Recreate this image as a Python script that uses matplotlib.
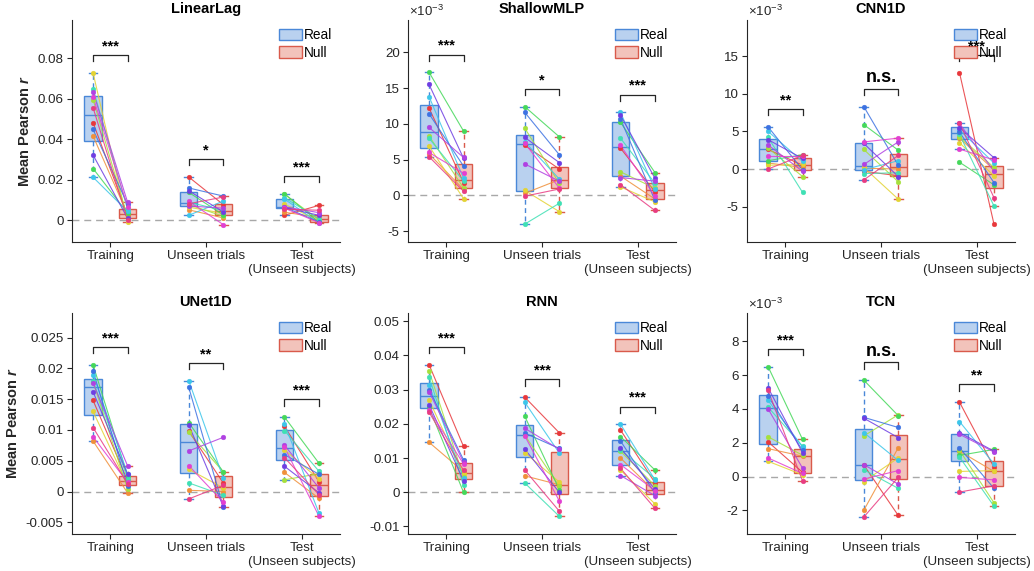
import numpy as np
import matplotlib
matplotlib.use('Agg')
import matplotlib.pyplot as plt
from matplotlib.patches import Patch
from matplotlib.ticker import FuncFormatter, FixedLocator

plt.rcParams['font.family'] = ['Liberation Sans', 'DejaVu Sans']
plt.rcParams['mathtext.fontset'] = 'custom'
plt.rcParams['mathtext.rm'] = 'Liberation Sans'
plt.rcParams['mathtext.it'] = 'Liberation Sans:italic'
plt.rcParams['mathtext.bf'] = 'Liberation Sans:bold'
plt.rcParams['mathtext.bfit'] = 'Liberation Sans:italic:bold'

# ---------------- data ----------------
groups = ['Training', 'Unseen trials', 'Test\n(Unseen subjects)']
conditions = ['Real', 'Null']
models = ['LinearLag', 'ShallowMLP', 'CNN1D', 'UNet1D', 'RNN', 'TCN']
# subject order: red, orange, yellow, lime, green, teal, cyan, blue, purple, violet, magenta, pink
subject_colors = ['#e8383c', '#f0903a', '#e3d334', '#a6e03c', '#45d85a', '#3fe0b4',
                  '#3cc6ea', '#3d72e2', '#6f3ee2', '#b041e2', '#e23fd2', '#e83c82']

linearlag_train_real = [.0483, .0417, .0729, .0597, .0256, .0650, .0213, .0449, .0323, .0635, .0610, .0557]
linearlag_train_null = [.0025, .0030, -.0008, .0014, .0036, .0055, .0045, .0080, .0011, .0091, .0068, .0004]
linearlag_unseen_real = [.0214, .0052, .0065, .0078, .0138, .0090, .0025, .0160, .0146, .0071, .0094, .0082]
linearlag_unseen_null = [.0078, .0012, .0035, .0020, .0027, .0048, .0095, .0120, .0042, .0060, -.0021, .0115]
linearlag_test_real = [.0025, .0040, .0080, .0128, .0132, .0112, .0105, .0065, .0063, .0067, .0060, .0055]
linearlag_test_null = [.0074, .0015, -.0002, .0003, -.0010, .0007, -.0013, -.0008, .0025, .0038, -.0011, .0050]

# ShallowMLP, CNN1D and TCN values in units of 1e-3
shallowmlp_train_real = [12.2, 5.8, 6.9, 8.3, 17.2, 8.0, 13.8, 11.4, 15.5, 9.5, 6.0, 5.4]
shallowmlp_train_null = [1.8, 0.85, -0.45, 1.05, 9.0, 2.0, 2.4, 4.1, 5.2, 5.3, 3.1, 0.6]
shallowmlp_unseen_real = [7.0, 0.3, 0.7, 9.4, 12.4, -4.0, 7.5, 11.6, 8.1, 4.4, 7.3, -0.1]
shallowmlp_unseen_null = [3.7, 2.2, -2.25, 1.7, 8.2, -1.1, 2.3, 5.7, 4.6, 2.0, 1.05, 0.9]
shallowmlp_test_real = [6.6, 2.7, 1.2, 3.3, 10.2, 8.0, 11.6, 10.7, 11.2, 2.5, 7.0, 1.5]
shallowmlp_test_null = [0.5, -0.5, -0.9, 1.0, 3.2, 1.7, 0.9, -0.7, 2.4, 2.0, -0.1, -2.1]

cnn1d_train_real = [2.6, 0.8, 0.5, 2.8, 1.1, 4.2, 5.0, 5.6, 3.9, 3.2, 1.7, 0.0]
cnn1d_train_null = [0.5, 0.2, 0.6, -1.0, 1.9, -3.1, 1.0, -0.1, 1.4, -0.3, 1.7, 1.8]
cnn1d_unseen_real = [-0.3, 0.1, 0.2, 2.6, 5.9, -0.6, -0.1, 8.3, 3.4, 0.6, 3.6, -1.45]
cnn1d_unseen_null = [-0.9, 0.0, -4.0, -1.7, 2.5, -0.5, 1.1, 0.5, -1.0, 3.6, 4.1, 1.8]
cnn1d_test_real = [12.8, 4.1, 3.5, 4.3, 0.9, 4.6, 5.2, 4.9, 5.5, 6.05, 2.65, 6.1]
cnn1d_test_null = [-7.3, -0.1, -0.9, 0.2, -2.1, -4.9, 0.8, -1.8, 1.5, -0.3, 1.2, -3.8]

unet1d_train_real = [.0148, .0082, .0130, .0178, .0206, .0180, .0190, .0196, .0162, .0176, .0089, .0104]
unet1d_train_null = [.0018, -.0002, .0011, .0004, .0025, .0021, .0029, .0009, .0028, .0042, .0015, .0013]
unet1d_unseen_real = [.0098, .0002, .0036, .0096, .0112, .0014, .0180, .0169, .0108, .0066, .0042, -.0012]
unet1d_unseen_null = [.0014, .0000, .0006, .0032, .0032, -.0006, .0022, -.0025, -.0024, .0088, -.0017, .0010]
unet1d_test_real = [.0106, .0031, .0068, .0019, .0121, .0099, .0110, .0060, .0041, .0075, .0072, .0055]
unet1d_test_null = [.0016, -.0011, .0020, .0029, .0046, .0033, -.0035, .0028, -.0002, .0006, -.0040, -.0005]

rnn_train_real = [.0373, .0146, .0270, .0355, .0248, .0338, .0314, .0300, .0256, .0294, .0240, .0234]
rnn_train_null = [.0134, .0060, .0052, .0044, .0000, .0020, .0042, .0095, .0034, .0088, .0083, .0064]
rnn_unseen_real = [.0278, .0048, .0116, .0167, .0222, .0027, .0263, .0173, .0126, .0187, .0165, .0065]
rnn_unseen_null = [.0174, .0022, .0030, .0018, .0008, -.0070, .0115, .0128, .0000, .0126, -.0025, -.0055]
rnn_test_real = [.0182, .0100, .0065, .0120, .0163, .0124, .0199, .0150, .0129, .0049, .0081, .0070]
rnn_test_null = [.0028, .0002, -.0034, .0019, .0065, .0040, .0036, -.0003, .0009, -.0010, .0005, -.0047]

tcn_train_real = [2.05, 1.65, 0.9, 2.35, 6.5, 4.1, 4.5, 4.75, 5.25, 4.0, 1.1, 5.1]
tcn_train_null = [0.25, 1.2, 0.1, 1.26, 2.2, 1.8, 1.75, 1.55, 1.4, 0.5, 0.18, -0.25]
tcn_unseen_real = [0.68, -2.0, -0.3, 2.4, 5.7, 0.4, 2.6, 3.5, 3.45, 0.70, -0.15, -2.4]
tcn_unseen_null = [-2.3, 1.7, 1.1, 3.65, 3.6, -0.7, 0.95, 2.9, 2.3, -0.45, 0.35, -0.05]
tcn_test_real = [4.4, 1.5, 0.3, 1.55, 1.25, 1.15, 3.25, 1.7, 2.6, 2.5, -0.05, -0.92]
tcn_test_null = [0.55, 0.3, 0.35, -1.55, 1.6, -1.75, 0.75, -0.7, 1.5, 1.45, -0.2, -0.55]

linearlag_sig = ['***', '*', '***']
shallowmlp_sig = ['***', '*', '***']
cnn1d_sig = ['**', 'n.s.', '***']
unet1d_sig = ['***', '**', '***']
rnn_sig = ['***', '***', '***']
tcn_sig = ['***', 'n.s.', '**']

# ---------------- tables built from the lists ----------------
milli = 1e-3
table = {
    'LinearLag': ([linearlag_train_real, linearlag_unseen_real, linearlag_test_real],
                  [linearlag_train_null, linearlag_unseen_null, linearlag_test_null], 1.0, linearlag_sig),
    'ShallowMLP': ([shallowmlp_train_real, shallowmlp_unseen_real, shallowmlp_test_real],
                   [shallowmlp_train_null, shallowmlp_unseen_null, shallowmlp_test_null], milli, shallowmlp_sig),
    'CNN1D': ([cnn1d_train_real, cnn1d_unseen_real, cnn1d_test_real],
              [cnn1d_train_null, cnn1d_unseen_null, cnn1d_test_null], milli, cnn1d_sig),
    'UNet1D': ([unet1d_train_real, unet1d_unseen_real, unet1d_test_real],
               [unet1d_train_null, unet1d_unseen_null, unet1d_test_null], 1.0, unet1d_sig),
    'RNN': ([rnn_train_real, rnn_unseen_real, rnn_test_real],
            [rnn_train_null, rnn_unseen_null, rnn_test_null], 1.0, rnn_sig),
    'TCN': ([tcn_train_real, tcn_unseen_real, tcn_test_real],
            [tcn_train_null, tcn_unseen_null, tcn_test_null], milli, tcn_sig),
}

# ---------------- styling ----------------
ylims = {
    'LinearLag': (-0.0107, 0.099),
    'ShallowMLP': (-6.5e-3, 24.5e-3),
    'CNN1D': (-9.7e-3, 19.8e-3),
    'UNet1D': (-0.0069, 0.029),
    'RNN': (-0.0122, 0.0524),
    'TCN': (-3.4e-3, 9.67e-3),
}
yticks = {
    'LinearLag': [0, 0.02, 0.04, 0.06, 0.08],
    'ShallowMLP': [-5e-3, 0, 5e-3, 10e-3, 15e-3, 20e-3],
    'CNN1D': [-5e-3, 0, 5e-3, 10e-3, 15e-3],
    'UNet1D': [-0.005, 0, 0.005, 0.01, 0.015, 0.02, 0.025],
    'RNN': [-0.01, 0, 0.01, 0.02, 0.03, 0.04, 0.05],
    'TCN': [-2e-3, 0, 2e-3, 4e-3, 6e-3, 8e-3],
}
sci = {'LinearLag': False, 'ShallowMLP': True, 'CNN1D': True,
       'UNet1D': False, 'RNN': False, 'TCN': True}

real_edge, real_face = '#4a88d8', '#b9d1ef'
null_edge, null_face = '#d95a4b', '#f2c3bb'
axis_col = '#262626'
off = 0.18
bw = 0.18

W, H = 1034, 571
fig = plt.figure(figsize=(W / 100, H / 100), dpi=100)
lefts = [72, 408, 747]
rows = [(20, 242), (313, 534)]
aw = 268

for mi, name in enumerate(models):
    r_i, c_i = divmod(mi, 3)
    top, bot = rows[r_i]
    ax = fig.add_axes([lefts[c_i] / W, 1 - bot / H, aw / W, (bot - top) / H])
    reals, nulls, scale, sig = table[name]
    y0, y1 = ylims[name]
    yr = y1 - y0
    ax.axhline(0, color='#a8a8a8', lw=1, ls=(0, (5, 3.5)), zorder=1)
    for gi in range(3):
        r = np.asarray(reals[gi]) * scale
        n = np.asarray(nulls[gi]) * scale
        xr, xn = gi + 1 - off, gi + 1 + off
        for vals, x, ec, fc in ((r, xr, real_edge, real_face), (n, xn, null_edge, null_face)):
            ax.boxplot([vals], positions=[x], widths=bw, patch_artist=True, showfliers=False,
                       whis=1.5, manage_ticks=False, zorder=2,
                       boxprops=dict(facecolor=fc, edgecolor=ec, lw=1.0),
                       medianprops=dict(color=ec, lw=1.0),
                       whiskerprops=dict(color=ec, lw=1.0, ls=(0, (3.5, 2.5))),
                       capprops=dict(color=ec, lw=1.0), capwidths=bw * 0.5)
        for si in range(len(r)):
            col = subject_colors[si]
            ax.plot([xr, xn], [r[si], n[si]], color=col, lw=0.8, alpha=0.85, zorder=3)
            ax.plot([xr, xn], [r[si], n[si]], ls='none', marker='o', ms=3.4,
                    mfc=col, mec=col, mew=0.3, zorder=4)
        h = max(r.max(), n.max()) + 0.08 * yr
        ax.plot([xr, xr, xn, xn], [h - 0.028 * yr, h, h, h - 0.028 * yr],
                color=axis_col, lw=0.9, zorder=5)
        s = sig[gi]
        if s == 'n.s.':
            ax.text(gi + 1, h + 0.012 * yr, s, ha='center', va='bottom',
                    fontsize=13, fontweight='bold', color='black', zorder=6)
        else:
            ax.text(gi + 1, h + 0.008 * yr, s, ha='center', va='bottom',
                    fontsize=10.5, fontweight='bold', color='black', zorder=6)

    ax.set_xlim(0.6, 3.4)
    ax.set_ylim(y0, y1)
    ax.set_xticks([1, 2, 3])
    ax.set_xticklabels(groups, fontsize=9.6)
    ax.yaxis.set_major_locator(FixedLocator(yticks[name]))
    if sci[name]:
        ax.yaxis.set_major_formatter(FuncFormatter(lambda v, p: '%g' % round(v / 1e-3, 6)))
        ax.text(0.005, 1.005, r'$\times10^{-3}$', transform=ax.transAxes, ha='left',
                va='bottom', fontsize=9.5, color=axis_col)
    else:
        ax.yaxis.set_major_formatter(FuncFormatter(lambda v, p: '%g' % round(v, 6)))
    ax.tick_params(axis='both', direction='out', length=3.5, width=0.8,
                   color=axis_col, labelcolor=axis_col, labelsize=9.6, pad=2.5)
    for sp in ('top', 'right'):
        ax.spines[sp].set_visible(False)
    for sp in ('left', 'bottom'):
        ax.spines[sp].set_color(axis_col)
        ax.spines[sp].set_linewidth(0.8)
    ax.set_title(name, fontsize=10.5, fontweight='bold', color='black', pad=5)
    if c_i == 0:
        ax.set_ylabel(r'Mean Pearson $\mathbfit{r}$', fontsize=10.5, fontweight='bold',
                      color=axis_col, labelpad=4)
    handles = [Patch(facecolor=real_face, edgecolor=real_edge, lw=1.0),
               Patch(facecolor=null_face, edgecolor=null_edge, lw=1.0)]
    ax.legend(handles, conditions, loc='upper right', frameon=False, fontsize=9.8,
              handlelength=1.65, handleheight=0.95, handletextpad=0.15,
              labelspacing=0.28, borderpad=0.3, borderaxespad=0.3)

fig.savefig('out.png', dpi=100)
